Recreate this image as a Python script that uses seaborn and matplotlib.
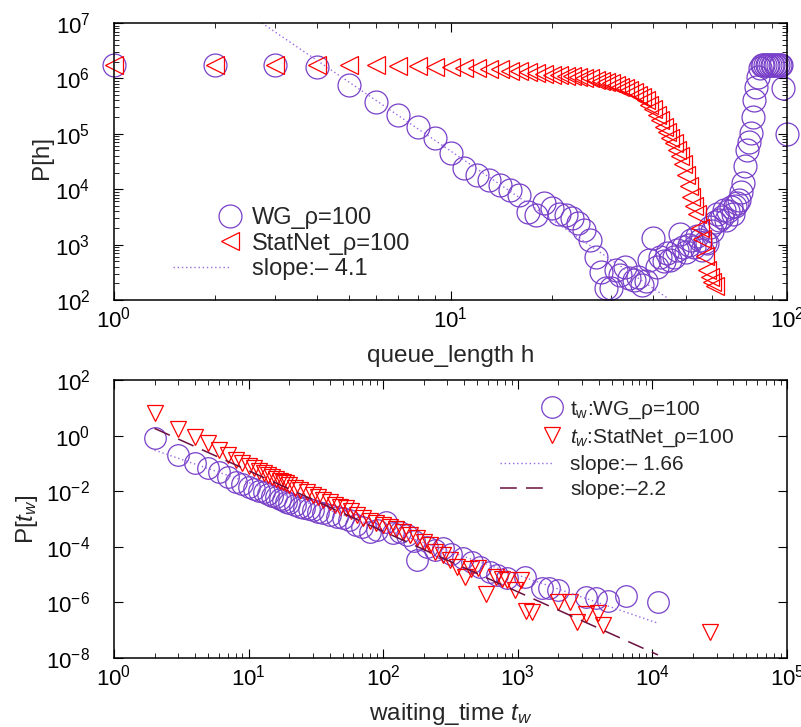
import numpy as np
import matplotlib
matplotlib.use('Agg')
import matplotlib.pyplot as plt
import seaborn as sns
from matplotlib.legend_handler import HandlerLine2D
from matplotlib.ticker import LogLocator, FixedLocator, NullLocator, NullFormatter

# ---- data ----
# top panel: queue length distribution P[h]
wg_h = list(range(1, 97)) + [97, 100]
wg_p = [1.74e6, 1.74e6, 1.74e6, 1.62e6, 7.6e5, 3.8e5, 2.2e5, 1.32e5, 8.3e4, 4.5e4,
        2.4e4, 1.82e4, 1.48e4, 1.2e4, 9.8e3, 7.9e3, 3.9e3, 3.4e3, 5.6e3, 4.6e3,
        3.6e3, 3.4e3, 3.0e3, 2.5e3, 1.8e3, 1.2e3, 600, 316, 166, 166,
        347, 282, 398, 251, 229, 263, 186, 224, 525, 1290,
        398, 603, 501, 692, 525, 603, 794, 1585, 912, 724,
        1000, 1200, 891, 1413, 1200, 794, 1122, 1047, 2089, 1778,
        2512, 3631, 2818, 3162, 4169, 2818, 3981, 4786, 3548, 5012,
        5623, 6310, 8913, 1.29e4, 2.57e4, 5.1e4, 7.1e4, 1.02e5, 2.04e5, 4.1e5,
        7.1e5, 1.07e6, 1.51e6, 1.74e6, 1.74e6, 1.74e6, 1.74e6, 1.74e6, 1.74e6, 1.74e6,
        1.74e6, 1.74e6, 1.74e6, 1.74e6, 1.74e6, 1.74e6,
        6.6e5, 1.0e5]

sn_h = list(range(1, 62))
sn_p = [1.74e6, 1.74e6, 1.74e6, 1.74e6, 1.74e6, 1.74e6, 1.70e6, 1.66e6, 1.62e6, 1.58e6,
        1.55e6, 1.51e6, 1.48e6, 1.45e6, 1.38e6, 1.35e6, 1.29e6, 1.26e6, 1.20e6, 1.17e6,
        1.15e6, 1.12e6, 1.10e6, 1.05e6, 1.02e6, 1.0e6, 9.5e5, 9.1e5, 8.7e5, 8.3e5,
        7.6e5, 7.1e5, 6.6e5, 6.2e5, 5.8e5, 5.1e5, 4.6e5, 4.1e5, 3.3e5, 2.75e5,
        2.2e5, 1.74e5, 1.35e5, 1.07e5, 8.5e4, 6.8e4, 5.0e4, 4.0e4, 2.8e4, 1.78e4,
        1.12e4, 7.1e3, 5.0e3, 3.5e3, 2.0e3, 1.26e3, 630, 355, 263, 214, 178]

fit_h = [2.75, 44]
fit_h_p = [1e7, 1.1e2]

# bottom panel: waiting time distribution P[t_w]
wg_t = [2, 3, 4, 5, 6, 7, 8, 9, 10, 11, 12, 13, 14, 15, 16, 17, 18, 19, 20, 22,
        24, 26, 28, 30, 33, 36, 40, 45, 50, 56, 63, 70, 80, 90, 105, 118, 133, 150,
        168, 177, 211, 242, 279, 320, 394, 460, 526, 620, 700, 826, 1130, 1500,
        1700, 1990, 3220, 3840, 4680, 6400, 11000]
wg_pt = [0.79, 0.20, 0.10, 0.066, 0.048, 0.032, 0.022, 0.018, 0.014, 0.012,
         0.0105, 0.0095, 0.0079, 0.0069, 0.006, 0.0052, 0.0047, 0.0042, 0.0038, 0.0033,
         0.0028, 0.0025, 0.0023, 0.0021, 0.0018, 0.0016, 0.0014, 0.0012, 0.0011, 8.9e-4,
         6.0e-4, 5.0e-4, 3.5e-4, 4.0e-4, 7.6e-4, 3.2e-4, 3.5e-4, 2.6e-4,
         1.6e-4, 3.4e-5, 1.0e-4, 7.6e-5, 8.7e-5, 5.6e-5, 4.0e-5, 2.8e-5, 1.9e-5, 1.26e-5, 1.0e-5,
         7.4e-6, 7.9e-6, 3.2e-6, 3.4e-6, 2.8e-6, 1.6e-6, 1.4e-6, 1.1e-6, 1.7e-6, 1.0e-6]

sn_t = [2, 3, 4, 5, 6, 7, 8, 9, 10, 11, 12, 13, 14, 15, 16, 17, 18, 19, 20, 22,
        24, 27, 30, 33, 36, 40, 44, 48, 53, 58, 64, 71, 80, 89, 100, 112, 125, 141,
        158, 177, 200, 222, 242, 280, 314, 352, 405, 450, 510, 585, 694, 760, 826,
        955, 1060, 1150, 1280, 1990, 2440, 2750, 3220, 3960, 4330, 26600]
sn_pt = [6.3, 1.66, 0.91, 0.52, 0.30, 0.20, 0.13, 0.10, 0.079, 0.066,
         0.055, 0.046, 0.038, 0.033, 0.028, 0.024, 0.021, 0.019, 0.0166, 0.0132,
         0.011, 0.0091, 0.0076, 0.006, 0.005, 0.004, 0.0033, 0.0028, 0.0024, 0.002,
         0.0014, 0.00105, 8.3e-4, 6.9e-4, 6.0e-4, 5.2e-4, 4.2e-4, 3.5e-4,
         2.6e-4, 2.0e-4, 1.5e-4, 1.15e-4, 6.6e-5, 5.0e-5, 3.4e-5, 1.95e-5, 8.5e-6, 1.6e-5,
         1.7e-5, 2.0e-6, 8.5e-6, 7.1e-6, 6.5e-6,
         2.8e-6, 6.5e-6, 5.0e-7, 4.4e-7, 1.07e-6, 1.07e-6, 2.0e-7, 3.8e-7, 4.1e-7, 1.6e-7, 8.5e-8]

fit1_t = [2, 1.1e4]
fit1_p = [0.30, 1.78e-7]
fit2_t = [2, 1.1e4]
fit2_p = [1.82, 1.29e-8]

# ---- style ----
sns.set_theme(style='ticks')
plt.rcParams['font.family'] = ['Liberation Sans', 'DejaVu Sans']
plt.rcParams['mathtext.fontset'] = 'custom'
plt.rcParams['mathtext.rm'] = 'Liberation Sans'
plt.rcParams['mathtext.it'] = 'Liberation Sans:italic'
plt.rcParams['mathtext.bf'] = 'Liberation Sans:bold'

purple = '#7840c8'
purple_lt = '#9a68e4'
red = '#ff0000'
maroon = '#6b1040'
tick_fs = 16
label_fs = 17.5


class EndMarkerHandler(HandlerLine2D):
    # put the legend marker at the right end of the sample, like gnuplot
    def create_artists(self, legend, orig_handle, xdescent, ydescent,
                       width, height, fontsize, trans):
        arts = super().create_artists(legend, orig_handle, xdescent, ydescent,
                                      width, height, fontsize, trans)
        arts[0].set_markevery([2])
        return arts


def style_axis(ax):
    ax.set_xscale('log')
    ax.set_yscale('log')
    for s in ax.spines.values():
        s.set_linewidth(1.1)
        s.set_color('black')
    ax.tick_params(which='both', direction='in', top=True, right=True,
                   colors='black', labelsize=tick_fs)
    ax.tick_params(which='major', length=6.5, width=0.8)
    ax.tick_params(which='minor', length=3.3, width=0.6)
    ax.tick_params(axis='y', pad=17)
    ax.tick_params(axis='x', pad=4.5)


fig = plt.figure(figsize=(8.01, 7.27), dpi=100)
ax1 = fig.add_axes([114 / 801, 1 - 300 / 727, 673 / 801, 277 / 727])
ax2 = fig.add_axes([114 / 801, 1 - 658 / 727, 673 / 801, 278 / 727])
style_axis(ax1)
style_axis(ax2)

# ---- top panel ----
sns.lineplot(x=wg_h, y=wg_p, ax=ax1, estimator=None, linestyle='', marker='o',
             markersize=16.5, markerfacecolor='none', markeredgecolor=purple,
             markeredgewidth=0.9, color=purple, clip_on=False, label='WG_ρ=100')
sns.lineplot(x=sn_h, y=sn_p, ax=ax1, estimator=None, linestyle='', marker='<',
             markersize=13, markerfacecolor='none', markeredgecolor=red,
             markeredgewidth=0.9, color=red, clip_on=False, label='StatNet_ρ=100')
sns.lineplot(x=fit_h, y=fit_h_p, ax=ax1, estimator=None, color=purple_lt,
             linewidth=1.0, dashes=(1, 2), label='slope:\u2013 4.1')

ax1.set_xlim(1, 100)
ax1.set_ylim(1e2, 1e7)
ax1.xaxis.set_minor_locator(LogLocator(base=10, subs=np.arange(2, 10)))
ax1.yaxis.set_minor_locator(LogLocator(base=10, subs=np.arange(2, 10)))
ax1.xaxis.set_minor_formatter(NullFormatter())
ax1.yaxis.set_minor_formatter(NullFormatter())
ax1.set_xlabel('queue_length h', fontsize=label_fs)
ax1.set_ylabel('P[h]', fontsize=label_fs)
ax1.xaxis.set_label_coords(0.5, -0.162)
ax1.yaxis.set_label_coords(-0.09, 0.515)

h1, l1 = ax1.get_legend_handles_labels()
ax1.legend(h1, l1, loc='upper left', bbox_to_anchor=(173 / 801, 1 - 207 / 727),
           bbox_transform=fig.transFigure, frameon=False, borderpad=0, borderaxespad=0,
           handlelength=2.42, handletextpad=0.93, labelspacing=0.15, fontsize=17,
           handler_map={type(h1[0]): EndMarkerHandler()})

# ---- bottom panel ----
sns.lineplot(x=wg_t, y=wg_pt, ax=ax2, estimator=None, sort=False, linestyle='', marker='o',
             markersize=15.5, markerfacecolor='none', markeredgecolor=purple,
             markeredgewidth=0.9, color=purple, clip_on=False,
             label=r'$\mathrm{t_w}$:WG_ρ=100')
sns.lineplot(x=sn_t, y=sn_pt, ax=ax2, estimator=None, sort=False, linestyle='', marker='v',
             markersize=12, markerfacecolor='none', markeredgecolor=red,
             markeredgewidth=0.9, color=red, clip_on=False,
             label=r'$t_w$:StatNet_ρ=100')
sns.lineplot(x=fit1_t, y=fit1_p, ax=ax2, estimator=None, color=purple_lt,
             linewidth=1.0, dashes=(1, 2), label='slope:\u2013 1.66')
sns.lineplot(x=fit2_t, y=fit2_p, ax=ax2, estimator=None, color=maroon,
             linewidth=1.1, dashes=(11, 6), label='slope:\u20132.2')

ax2.set_xlim(1, 1e5)
ax2.set_ylim(1e-8, 1e2)
ax2.xaxis.set_minor_locator(LogLocator(base=10, subs=np.arange(2, 10)))
ax2.xaxis.set_minor_formatter(NullFormatter())
ax2.yaxis.set_major_locator(FixedLocator([1e-8, 1e-6, 1e-4, 1e-2, 1e0, 1e2]))
ax2.yaxis.set_minor_locator(NullLocator())
ax2.set_xlabel(r'waiting_time $t_w$', fontsize=label_fs)
ax2.set_ylabel(r'P[$t_w$]', fontsize=label_fs)
ax2.xaxis.set_label_coords(0.5, -0.155)
ax2.yaxis.set_label_coords(-0.11, 0.5)

h2, l2 = ax2.get_legend_handles_labels()
ax2.legend(h2, l2, loc='upper left', bbox_to_anchor=(500 / 801, 1 - 399.5 / 727),
           bbox_transform=fig.transFigure, frameon=False, borderpad=0, borderaxespad=0,
           handlelength=2.5, handletextpad=0.87, labelspacing=0.3, fontsize=15,
           handler_map={type(h2[0]): EndMarkerHandler()})

fig.savefig('out.png', dpi=100)
